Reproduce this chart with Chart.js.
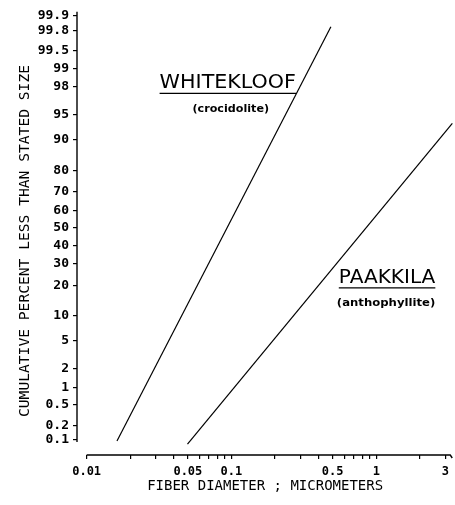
<!DOCTYPE html>
<html>
<head>
<meta charset="utf-8">
<script src="https://cdn.jsdelivr.net/npm/chart.js@4.4.1/dist/chart.umd.min.js"></script>
<style>
html,body{margin:0;padding:0;background:#fff;}
#wrap{width:455px;height:505px;}
</style>
</head>
<body>
<div id="wrap"><canvas id="c" width="455" height="505"></canvas></div>
<script>
// ---- data ----
const whitekloofDiameter = [0.0162, 0.486];   // micrometers
const whitekloofPercent  = [0.095, 99.83];    // cumulative %
const paakkilaDiameter   = [0.0497, 3.35];
const paakkilaPercent    = [0.082, 93.6];

const yTickPercents = [0.1, 0.2, 0.5, 1, 2, 5, 10, 20, 30, 40, 50, 60, 70, 80, 90, 95, 98, 99, 99.5, 99.8, 99.9];
const yTickLabels   = ['0.1','0.2','0.5','1','2','5','10','20','30','40','50','60','70','80','90','95','98','99','99.5','99.8','99.9'];
const xTickValues = [0.01,0.02,0.03,0.04,0.05,0.06,0.07,0.08,0.09,0.1,0.2,0.3,0.4,0.5,0.6,0.7,0.8,0.9,1,2,3];
const xTickLabels = ['0.01','','','','0.05','','','','','0.1','','','','0.5','','','','','1','','3'];

// annotation anchors in data units: [text, left diameter, right diameter, baseline percent]
const annWhitekloof = ['WHITEKLOOF', 0.0319, 0.279, 97.9];
const annCrocid     = ['(crocidolite)', 0.0538, 0.182, 95.5];
const annPaakkila   = ['PAAKKILA', 0.551, 2.557, 21.2];
const annAntho      = ['(anthophyllite)', 0.534, 2.557, 12.9];

// inverse standard normal CDF (probability-paper transform)
function probit(p){
  const a=[-3.969683028665376e+01,2.209460984245205e+02,-2.759285104469687e+02,1.383577518672690e+02,-3.066479806614716e+01,2.506628277459239e+00];
  const b=[-5.447609879822406e+01,1.615858368580409e+02,-1.556989798598866e+02,6.680131188771972e+01,-1.328068155288572e+01];
  const c=[-7.784894002430293e-03,-3.223964580411365e-01,-2.400758277161838e+00,-2.549671010243303e+00,4.374664141464968e+00,2.938163982698783e+00];
  const d=[7.784695709041462e-03,3.224671290700398e-01,2.445134137142996e+00,3.754408661907416e+00];
  const pl=0.02425, ph=1-pl; let q,r;
  if(p<pl){q=Math.sqrt(-2*Math.log(p));return (((((c[0]*q+c[1])*q+c[2])*q+c[3])*q+c[4])*q+c[5])/((((d[0]*q+d[1])*q+d[2])*q+d[3])*q+1);}
  if(p<=ph){q=p-0.5;r=q*q;return (((((a[0]*r+a[1])*r+a[2])*r+a[3])*r+a[4])*r+a[5])*q/(((((b[0]*r+b[1])*r+b[2])*r+b[3])*r+b[4])*r+1);}
  q=Math.sqrt(-2*Math.log(1-p));return -(((((c[0]*q+c[1])*q+c[2])*q+c[3])*q+c[4])*q+c[5])/((((d[0]*q+d[1])*q+d[2])*q+d[3])*q+1);
}
const toPts = (xs, ps) => xs.map((x,i)=>({x:x, y:probit(ps[i]/100)}));

const MONO = '"DejaVu Sans Mono", monospace';

function fitText(ctx, text, x, y, w){
  const m = ctx.measureText(text).width;
  ctx.save(); ctx.translate(x,y); ctx.scale(w/m,1);
  ctx.textAlign='left'; ctx.fillText(text,0,0); ctx.restore();
}

const deco = {
  id:'deco',
  afterDraw(chart){
    const {ctx, chartArea:ca, scales:{x,y}} = chart;
    ctx.save();
    ctx.strokeStyle='#000'; ctx.fillStyle='#000'; ctx.lineWidth=1.4;
    // y axis line
    ctx.beginPath();
    ctx.moveTo(ca.left, ca.top);
    ctx.lineTo(ca.left, y.getPixelForValue(probit(0.001))+2);
    ctx.stroke();
    // x axis line
    ctx.beginPath();
    ctx.moveTo(x.getPixelForValue(0.01), ca.bottom);
    ctx.lineTo(ca.right-3, ca.bottom);
    ctx.lineTo(ca.right-1, ca.bottom+3);
    ctx.stroke();

    // y axis title
    ctx.font = '14px '+MONO;
    ctx.textBaseline='middle';
    const yt='CUMULATIVE PERCENT LESS THAN STATED SIZE';
    ctx.save();
    ctx.translate(25, 241); ctx.rotate(-Math.PI/2);
    fitText(ctx, yt, -176, 0, 352);
    ctx.restore();

    // annotations
    ctx.textBaseline='alphabetic';
    const big = (ann)=>{
      const [t,l,r,p]=ann;
      const xl=x.getPixelForValue(l), xr=x.getPixelForValue(r), yb=y.getPixelForValue(probit(p/100));
      ctx.font='20px "DejaVu Sans", sans-serif';
      fitText(ctx,t,xl,yb,xr-xl);
      ctx.lineWidth=1.3;
      ctx.beginPath(); ctx.moveTo(xl,yb+5); ctx.lineTo(xr,yb+5); ctx.stroke();
    };
    const small = (ann)=>{
      const [t,l,r,p]=ann;
      const xl=x.getPixelForValue(l), xr=x.getPixelForValue(r), yb=y.getPixelForValue(probit(p/100));
      ctx.font='bold 11px "DejaVu Sans", sans-serif';
      fitText(ctx,t,xl,yb,xr-xl);
    };
    big(annWhitekloof); small(annCrocid);
    big(annPaakkila); small(annAntho);
    ctx.restore();
  }
};

new Chart(document.getElementById('c'), {
  type:'scatter',
  data:{
    datasets:[
      {label:'Whitekloof (crocidolite)', data:toPts(whitekloofDiameter, whitekloofPercent),
       showLine:true, borderColor:'#000', borderWidth:1.2, pointRadius:0, tension:0},
      {label:'Paakkila (anthophyllite)', data:toPts(paakkilaDiameter, paakkilaPercent),
       showLine:true, borderColor:'#000', borderWidth:1.2, pointRadius:0, tension:0}
    ]
  },
  options:{
    responsive:false, animation:false,
    layout:{padding:{top:10,right:0,bottom:0,left:0}},
    plugins:{legend:{display:false}, tooltip:{enabled:false}},
    scales:{
      x:{
        type:'logarithmic', min:0.00858, max:3.4,
        afterFit(s){ s.height=50; },
        afterBuildTicks(s){ s.ticks = xTickValues.map(v=>({value:v})); },
        grid:{drawOnChartArea:false, drawTicks:true, tickLength:4, color:'#000', lineWidth:1.2},
        border:{display:false},
        ticks:{autoSkip:false, maxRotation:0, minRotation:0, padding:6, color:'#000',
          font:{family:MONO, size:12, weight:'bold'},
          callback:(v,i)=>xTickLabels[i]},
        title:{display:true, text:'FIBER DIAMETER ; MICROMETERS', color:'#000',
          font:{family:MONO, size:14}, padding:{top:0,bottom:10}}
      },
      y:{
        type:'linear', min:-3.308, max:3.148,
        afterFit(s){ s.width=77; },
        afterBuildTicks(s){ s.ticks = yTickPercents.map(p=>({value:probit(p/100)})); },
        grid:{drawOnChartArea:false, drawTicks:true, tickLength:4, color:'#000', lineWidth:1.2},
        border:{display:false},
        ticks:{autoSkip:false, padding:4, color:'#000',
          font:{family:MONO, size:13, weight:'bold'},
          callback:(v,i)=>yTickLabels[i]}
      }
    }
  },
  plugins:[deco]
});
</script>
</body>
</html>
